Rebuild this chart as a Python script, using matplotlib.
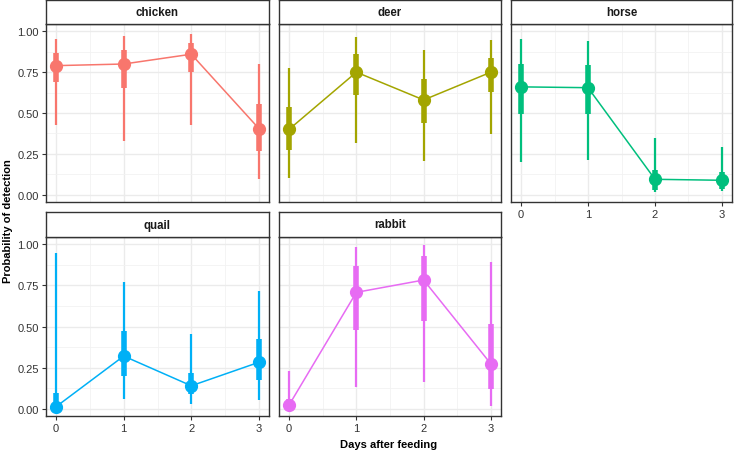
import matplotlib
matplotlib.use("Agg")
import matplotlib.pyplot as plt

plt.rcParams['font.family'] = ['Liberation Sans', 'DejaVu Sans']

# data
species = ['chicken', 'deer', 'horse', 'quail', 'rabbit']
colors = ['#F8766D', '#A3A500', '#00BF7D', '#00B0F6', '#E76BF3']
days = [0, 1, 2, 3]
day_labels = ['0', '1', '2', '3']
prob_ticks = [0.0, 0.25, 0.5, 0.75, 1.0]
prob_labels = ['0.00', '0.25', '0.50', '0.75', '1.00']

estimate = [
    [0.79, 0.80, 0.86, 0.405],
    [0.40, 0.75, 0.58, 0.75],
    [0.66, 0.655, 0.094, 0.088],
    [0.012, 0.32, 0.139, 0.282],
    [0.022, 0.708, 0.783, 0.272],
]
inner_lo = [
    [0.69, 0.656, 0.75, 0.266],
    [0.272, 0.61, 0.436, 0.627],
    [0.492, 0.492, 0.026, 0.037],
    [0.0, 0.196, 0.088, 0.172],
    [0.0, 0.479, 0.534, 0.119],
]
inner_hi = [
    [0.87, 0.887, 0.928, 0.557],
    [0.539, 0.86, 0.709, 0.836],
    [0.803, 0.795, 0.154, 0.14],
    [0.098, 0.472, 0.217, 0.421],
    [0.06, 0.871, 0.928, 0.513],
]
outer_lo = [
    [0.426, 0.328, 0.426, 0.094],
    [0.104, 0.318, 0.205, 0.369],
    [0.20, 0.215, 0.017, 0.02],
    [0.0, 0.061, 0.027, 0.053],
    [0.0, 0.129, 0.16, 0.017],
]
outer_hi = [
    [0.955, 0.973, 0.983, 0.803],
    [0.774, 0.963, 0.887, 0.948],
    [0.955, 0.942, 0.348, 0.289],
    [0.947, 0.773, 0.456, 0.718],
    [0.227, 0.984, 0.994, 0.892],
]

W, H = 734, 452
fig = plt.figure(figsize=(W / 100, H / 100), dpi=100)

col_x = [(46, 269), (279, 501), (511, 732)]
row_y = [((1, 25), (25, 203)), ((213, 238), (238, 417))]


def px_box(x0, x1, y0, y1):
    return [x0 / W, 1 - y1 / H, (x1 - x0) / W, (y1 - y0) / H]


for i, name in enumerate(species):
    r, c = divmod(i, 3)
    (sy0, sy1), (py0, py1) = row_y[r]
    x0, x1 = col_x[c]
    ax = fig.add_axes(px_box(x0, x1, py0, py1))
    col = colors[i]

    ax.plot(days, estimate[i], color=col, lw=1.1, zorder=2)
    ax.vlines(days, outer_lo[i], outer_hi[i], color=col, lw=1.6, zorder=3)
    ax.vlines(days, inner_lo[i], inner_hi[i], color=col, lw=4.0, zorder=3)
    ax.plot(days, estimate[i], 'o', color=col, ms=8.5, zorder=4)

    ax.set_xlim(-0.15, 3.15)
    ax.set_ylim(-0.045, 1.045)
    ax.set_xticks(days, labels=day_labels)
    ax.set_xticks([0.5, 1.5, 2.5], minor=True)
    ax.set_yticks(prob_ticks, labels=prob_labels)
    ax.set_yticks([0.125, 0.375, 0.625, 0.875], minor=True)
    ax.grid(True, which='major', color='#EBEBEB', lw=1.0, zorder=0)
    ax.grid(True, which='minor', color='#F2F2F2', lw=0.6, zorder=0)
    ax.set_axisbelow(True)
    for s in ax.spines.values():
        s.set_color('#333333')
        s.set_linewidth(1.0)
    ax.tick_params(which='minor', length=0)
    ax.tick_params(which='major', length=3, width=0.8, color='#333333',
                   labelsize=8, labelcolor='#333333', pad=2)

    if c != 0:
        ax.tick_params(axis='y', left=False, labelleft=False)
    if not (r == 1 or c == 2):
        ax.tick_params(axis='x', bottom=False, labelbottom=False)

    # strip
    sax = fig.add_axes(px_box(x0, x1, sy0, sy1))
    sax.set_xticks([])
    sax.set_yticks([])
    sax.set_facecolor('white')
    for s in sax.spines.values():
        s.set_color('#333333')
        s.set_linewidth(1.0)
    sax.text(0.5, 0.5, name, ha='center', va='center', fontsize=8.3,
             fontweight='bold', color='#1A1A1A', transform=sax.transAxes)

fig.text(389 / W, 1 - 445 / H, 'Days after feeding', ha='center', va='center',
         fontsize=8, fontweight='bold')
fig.text(8 / W, 1 - 221 / H, 'Probability of detection', ha='center',
         va='center', rotation=90, fontsize=8, fontweight='bold')

fig.savefig('out.png', dpi=100)
